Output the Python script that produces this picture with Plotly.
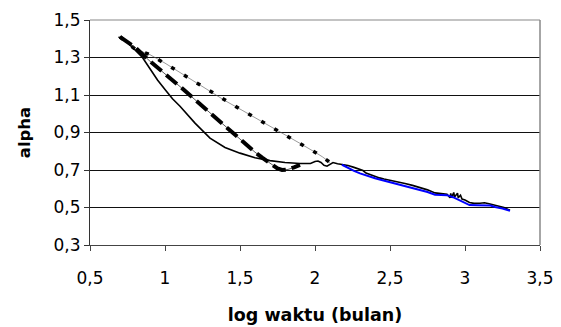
import plotly.graph_objects as go

# Solid black series
solid_x = [0.69, 0.75, 0.8, 0.85, 0.9, 0.95, 1.0, 1.05, 1.1, 1.2, 1.3, 1.4, 1.5, 1.6, 1.7, 1.8, 1.9,
           1.97, 2.0, 2.02, 2.04, 2.06, 2.08, 2.1, 2.12, 2.15, 2.19, 2.22, 2.26, 2.3, 2.32, 2.34, 2.37,
           2.4, 2.43, 2.46, 2.5, 2.55, 2.6, 2.65, 2.7, 2.75, 2.8, 2.85, 2.88, 2.9, 2.905, 2.91, 2.925,
           2.93, 2.95, 2.955, 2.97, 2.98, 3.0, 3.03, 3.06, 3.1, 3.13, 3.16, 3.2, 3.23, 3.26, 3.3]
solid_y = [1.41, 1.38, 1.34, 1.30, 1.24, 1.18, 1.13, 1.08, 1.04, 0.95, 0.87, 0.82, 0.79, 0.765, 0.75, 0.74, 0.735,
           0.735, 0.745, 0.748, 0.74, 0.725, 0.72, 0.732, 0.74, 0.733, 0.73, 0.724, 0.714, 0.702, 0.697, 0.684, 0.674,
           0.668, 0.658, 0.652, 0.646, 0.638, 0.628, 0.618, 0.608, 0.594, 0.578, 0.572, 0.571, 0.552, 0.575, 0.553, 0.58,
           0.556, 0.576, 0.552, 0.565, 0.545, 0.54, 0.527, 0.522, 0.523, 0.525, 0.52, 0.511, 0.507, 0.5, 0.485]

# Blue series
blue_x = [2.18, 2.22, 2.26, 2.3, 2.35, 2.4, 2.45, 2.5, 2.55, 2.6, 2.65, 2.7, 2.75, 2.8, 2.85, 2.88,
          2.92, 2.96, 3.0, 3.03, 3.08, 3.13, 3.17, 3.2, 3.25, 3.3]
blue_y = [0.728, 0.71, 0.695, 0.682, 0.668, 0.656, 0.645, 0.635, 0.626, 0.617, 0.607, 0.597, 0.583, 0.568,
          0.565, 0.566, 0.555, 0.54, 0.525, 0.513, 0.512, 0.513, 0.511, 0.503, 0.495, 0.482]

# Thick dashed series
dash_x = [0.7, 0.8, 0.9, 1.0, 1.1, 1.2, 1.3, 1.4, 1.5, 1.6, 1.65, 1.7, 1.75, 1.78, 1.82, 1.86, 1.9]
dash_y = [1.41, 1.355, 1.28, 1.215, 1.145, 1.075, 1.005, 0.935, 0.86, 0.795, 0.765, 0.738, 0.708, 0.70,
          0.703, 0.714, 0.727]

# Dotted series
dot_x = [0.7, 0.8, 0.9, 1.0, 1.1, 1.2, 1.3, 1.4, 1.5, 1.6, 1.7, 1.8, 1.9, 2.0, 2.05, 2.1]
dot_y = [1.41, 1.345, 1.315, 1.27, 1.22, 1.17, 1.12, 1.07, 1.025, 0.98, 0.935, 0.89, 0.842, 0.795, 0.77, 0.74]

x_ticks = [0.5, 1.0, 1.5, 2.0, 2.5, 3.0, 3.5]
y_ticks = [0.3, 0.5, 0.7, 0.9, 1.1, 1.3, 1.5]

fig = go.Figure()
fig.add_trace(go.Scatter(x=dot_x, y=dot_y, mode="lines",
                         line=dict(color="#555", width=0.6)))
fig.add_trace(go.Scatter(x=dot_x, y=dot_y, mode="lines",
                         line=dict(color="black", width=3.5, dash="4px,11px")))
fig.add_trace(go.Scatter(x=dash_x, y=dash_y, mode="lines",
                         line=dict(color="#333", width=0.8)))
fig.add_trace(go.Scatter(x=dash_x, y=dash_y, mode="lines",
                         line=dict(color="black", width=4, dash="14px,6px")))
fig.add_trace(go.Scatter(x=solid_x, y=solid_y, mode="lines",
                         line=dict(color="black", width=1.6)))
fig.add_trace(go.Scatter(x=blue_x, y=blue_y, mode="lines",
                         line=dict(color="#0000FF", width=2)))

fig.update_layout(
    width=561, height=327,
    margin=dict(l=82, r=29, t=12, b=90, autoexpand=False),
    paper_bgcolor="white", plot_bgcolor="white",
    showlegend=False,
    separators=",.",
    font=dict(family="DejaVu Sans", size=17, color="black"),
    xaxis=dict(range=[0.5, 3.5], tickvals=x_ticks, showgrid=False, zeroline=False,
               automargin=False, ticklabelstandoff=12,
               showline=True, linecolor="#444", linewidth=1.2,
               ticks="outside", ticklen=5, tickcolor="#444",
               title=dict(text="<b>log waktu (bulan)</b>", standoff=22,
                          font=dict(size=17.5))),
    yaxis=dict(range=[0.3, 1.5], tickvals=y_ticks, showgrid=True, gridcolor="#111", gridwidth=1,
               automargin=False,
               zeroline=False, showline=True, linecolor="#333", linewidth=1.2,
               ticks="outside", ticklen=5, tickcolor="#333",
               title=dict(text="<b>alpha</b>", standoff=18, font=dict(size=16.5))),
    shapes=[
        dict(type="line", xref="paper", yref="paper", x0=1, x1=1, y0=0, y1=1,
             line=dict(color="#888", width=1.5)),
        dict(type="line", xref="paper", yref="paper", x0=0, x1=1, y0=1, y1=1,
             line=dict(color="#888", width=1.2)),
    ],
)

fig.write_html("out.html")
